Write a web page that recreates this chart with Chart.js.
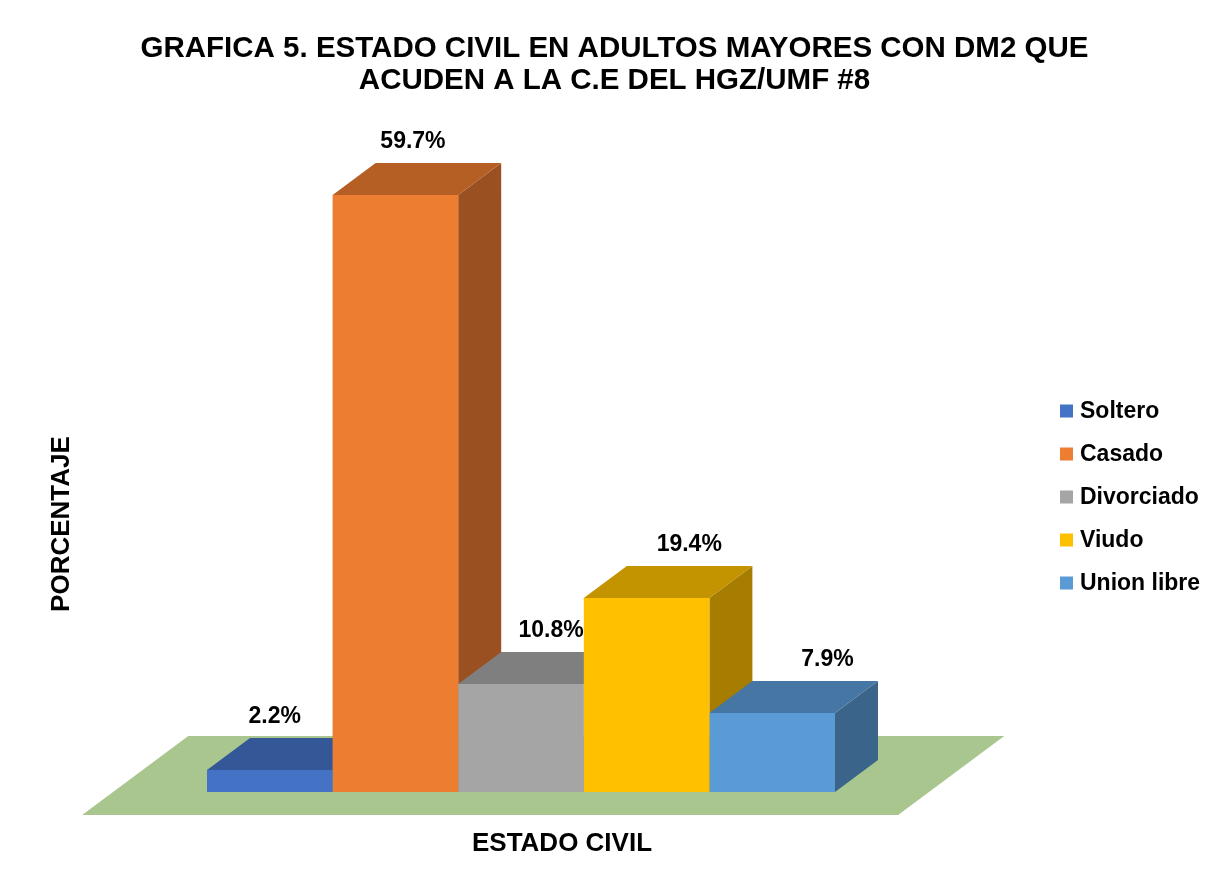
<!DOCTYPE html>
<html>
<head>
<meta charset="utf-8">
<script src="https://cdn.jsdelivr.net/npm/chart.js@4.4.1/dist/chart.umd.min.js"></script>
<style>
  html, body { margin: 0; padding: 0; background: #ffffff; }
  #wrap { width: 1229px; height: 890px; position: relative; }
</style>
</head>
<body>
<div id="wrap"><canvas id="chart"></canvas></div>
<script>
// ---- data ----
const categories = ['ESTADO CIVIL'];
const seriesNames = ['Soltero', 'Casado', 'Divorciado', 'Viudo', 'Union libre'];
const seriesValues = [2.2, 59.7, 10.8, 19.4, 7.9];
const valueLabels = ['2.2%', '59.7%', '10.8%', '19.4%', '7.9%'];
const titleLines = ['GRAFICA 5. ESTADO CIVIL EN ADULTOS MAYORES CON DM2 QUE', 'ACUDEN A LA C.E DEL HGZ/UMF #8'];
const xAxisTitle = 'ESTADO CIVIL';
const yAxisTitle = 'PORCENTAJE';

// ---- styles ----
const frontColors = ['#4472C4', '#ED7D31', '#A5A5A5', '#FFC000', '#5B9BD5'];
const topColors   = ['#345897', '#B65F25', '#7F7F7F', '#C49300', '#4676A3'];
const sideColors  = ['#2C4B82', '#9A5020', '#6B6B6B', '#A67D00', '#3B648A'];
const floorColor = '#A9C68F';
const FONT = '"Liberation Sans", Arial, Helvetica, sans-serif';

// 3D projection settings (pixels)
const DEPTH_X = 43, DEPTH_Y = 32;
const FLOOR_FRONT = 23, FLOOR_BACK = 24;

Chart.defaults.font.family = FONT;
Chart.defaults.color = '#000000';

const threeD = {
  id: 'threeD',
  beforeDatasetsDraw(chart) {
    const { ctx, chartArea } = chart;
    const base = chart.scales.y.getPixelForValue(0);
    const r = DEPTH_X / DEPTH_Y;
    const f = FLOOR_FRONT, b = DEPTH_Y + FLOOR_BACK;
    ctx.save();
    // floor
    ctx.fillStyle = floorColor;
    ctx.beginPath();
    ctx.moveTo(chartArea.left - f * r, base + f);
    ctx.lineTo(chartArea.left + b * r, base - b);
    ctx.lineTo(chartArea.right + b * r, base - b);
    ctx.lineTo(chartArea.right - f * r, base + f);
    ctx.closePath();
    ctx.fill();
    // side and top faces, left to right (front faces are the Chart.js bars)
    chart.data.datasets.forEach((ds, i) => {
      const meta = chart.getDatasetMeta(i);
      meta.data.forEach(bar => {
        const { x, y, width } = bar.getProps(['x', 'y', 'width'], true);
        const l = x - width / 2, rt = x + width / 2;
        ctx.fillStyle = sideColors[i];
        ctx.beginPath();
        ctx.moveTo(rt, y);
        ctx.lineTo(rt + DEPTH_X, y - DEPTH_Y);
        ctx.lineTo(rt + DEPTH_X, base - DEPTH_Y);
        ctx.lineTo(rt, base);
        ctx.closePath();
        ctx.fill();
        ctx.fillStyle = topColors[i];
        ctx.beginPath();
        ctx.moveTo(l, y);
        ctx.lineTo(l + DEPTH_X, y - DEPTH_Y);
        ctx.lineTo(rt + DEPTH_X, y - DEPTH_Y);
        ctx.lineTo(rt, y);
        ctx.closePath();
        ctx.fill();
      });
    });
    ctx.restore();
  },
  afterDatasetsDraw(chart) {
    const { ctx, chartArea } = chart;
    const cx = (chartArea.left + chartArea.right) / 2;
    ctx.save();
    ctx.font = 'bold 23px ' + FONT;
    ctx.fillStyle = '#000000';
    ctx.textAlign = 'center';
    ctx.textBaseline = 'middle';
    chart.data.datasets.forEach((ds, i) => {
      const meta = chart.getDatasetMeta(i);
      meta.data.forEach(bar => {
        const { x, y } = bar.getProps(['x', 'y'], true);
        const lx = x + DEPTH_X * 0.7 + 0.1 * (x - cx);
        const ly = y - DEPTH_Y - 21;
        ctx.fillText(valueLabels[i], lx, ly);
      });
    });
    ctx.restore();
  },
  afterDraw(chart) {
    const { ctx, chartArea } = chart;
    const midY = (chartArea.top + chartArea.bottom) / 2;
    const midX = (chartArea.left + chartArea.right) / 2;
    ctx.save();
    // axis titles
    ctx.font = 'bold 26px ' + FONT;
    ctx.fillStyle = '#000000';
    ctx.textAlign = 'center';
    ctx.textBaseline = 'middle';
    ctx.fillText(xAxisTitle, midX + 41, chartArea.bottom + 52);
    ctx.save();
    ctx.translate(chartArea.left - 51, midY + 32);
    ctx.rotate(-Math.PI / 2);
    ctx.fillText(yAxisTitle, 0, 0);
    ctx.restore();
    // legend
    const bx = chart.width - 169;
    const step = 43, box = 13;
    const n = chart.data.datasets.length;
    const legMid = midY + 5;
    ctx.font = 'bold 23px ' + FONT;
    ctx.textAlign = 'left';
    chart.data.datasets.forEach((ds, i) => {
      const cy = legMid + (i - (n - 1) / 2) * step;
      ctx.fillStyle = ds.backgroundColor;
      ctx.fillRect(bx, cy - box / 2, box, box);
      ctx.fillStyle = '#000000';
      ctx.fillText(ds.label, bx + box + 7, cy + 1);
    });
    ctx.restore();
  }
};

const datasets = seriesNames.map((name, i) => ({
  label: name,
  data: [seriesValues[i]],
  backgroundColor: frontColors[i],
  borderWidth: 0,
  categoryPercentage: 0.7696,
  barPercentage: 1.0
}));

const hiddenAxis = {
  ticks: { display: false },
  grid: { display: false, drawTicks: false, tickLength: 0 },
  border: { display: false }
};

new Chart(document.getElementById('chart'), {
  type: 'bar',
  data: { labels: categories, datasets },
  plugins: [threeD],
  options: {
    responsive: true,
    maintainAspectRatio: false,
    animation: false,
    events: [],
    layout: { padding: 0 },
    plugins: {
      legend: { display: false },
      tooltip: { enabled: false },
      title: {
        display: true,
        text: titleLines,
        color: '#000000',
        font: { size: 29.5, weight: 'bold', lineHeight: 1.085 },
        padding: { top: 33, bottom: 95 }
      }
    },
    scales: {
      x: Object.assign({ type: 'category', afterFit(s) { s.height = 98; } }, hiddenAxis),
      y: Object.assign({ min: 0, max: 60, position: 'left', afterFit(s) { s.width = 113; } }, hiddenAxis),
      yRight: Object.assign({ position: 'right', afterFit(s) { s.width = 300; } }, hiddenAxis)
    }
  }
});
</script>
</body>
</html>
